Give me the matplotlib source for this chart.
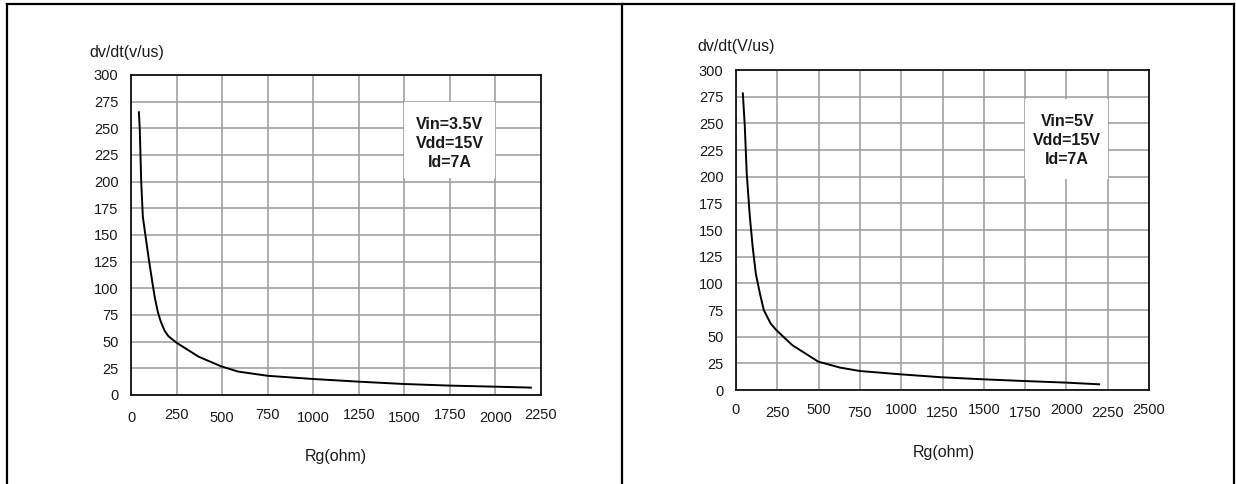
import matplotlib
matplotlib.use("Agg")
import matplotlib.pyplot as plt
from matplotlib.lines import Line2D
from matplotlib.patches import Rectangle
from matplotlib.transforms import ScaledTranslation

plt.rcParams['font.family'] = ['Liberation Sans', 'DejaVu Sans']

# ---- data ----
rg_left = [43, 48, 56, 65, 83, 98, 115, 130, 147, 163, 185, 206, 250, 370, 493,
           587, 750, 1000, 1250, 1500, 1750, 2000, 2200]
dvdt_left = [266, 250, 200, 167, 145, 127, 108, 92, 78, 69, 60, 55, 49, 36, 27,
             22, 18, 15, 12.5, 10.3, 8.8, 7.8, 6.9]

rg_right = [41, 53, 65, 84, 101, 120, 144, 168, 209, 245, 341, 498, 630, 750,
            995, 1248, 1498, 1748, 2000, 2204]
dvdt_right = [279, 248, 203, 162, 134, 109, 91, 75, 62.5, 56, 42, 26.6, 21, 17.8,
              14.7, 11.9, 10, 8.4, 6.9, 5.3]

yticks = [0, 25, 50, 75, 100, 125, 150, 175, 200, 225, 250, 275, 300]
xticks_left = [0, 250, 500, 750, 1000, 1250, 1500, 1750, 2000, 2250]
xticks_right = [0, 250, 500, 750, 1000, 1250, 1500, 1750, 2000, 2250, 2500]

ylabel_left = "dv/dt(v/us)"
ylabel_right = "dv/dt(V/us)"
xlabel = "Rg(ohm)"
note_left = "Vin=3.5V\nVdd=15V\nId=7A"
note_right = "Vin=5V\nVdd=15V\nId=7A"

W, H = 1236, 484
fig = plt.figure(figsize=(W / 100, H / 100), dpi=100)
fig.patch.set_facecolor('white')

TXT = '#1a1a1a'
GRID = '#9a9a9a'


def px_rect(x0, y0, x1, y1):
    return [x0 / W, 1 - y1 / H, (x1 - x0) / W, (y1 - y0) / H]


def panel(rect, xs, ys, xticks, xmax, ylab, ylab_xy, xlab_xy, note, note_xy, box,
          jitter_sign):
    ax = fig.add_axes(px_rect(*rect))
    ax.plot(xs, ys, color='black', lw=1.4, zorder=3, solid_capstyle='butt')
    ax.set_xlim(0, xmax)
    ax.set_ylim(0, 300)
    ax.set_xticks(xticks)
    ax.set_yticks(yticks)
    ax.set_xticklabels([str(v) for v in xticks])
    ax.set_yticklabels([str(v) for v in yticks])
    ax.tick_params(length=0, labelsize=10.5, colors=TXT)
    ax.tick_params(axis='y', pad=9)
    ax.tick_params(axis='x', pad=10.5)
    # slight alternating vertical offset of x tick labels (as in the scan)
    for i, lab in enumerate(ax.get_xticklabels()):
        dy = (1.2 if i % 2 == 0 else -1.2) * jitter_sign
        lab.set_transform(lab.get_transform() +
                          ScaledTranslation(0, dy / 72, fig.dpi_scale_trans))
    ax.grid(True, color=GRID, lw=1.1)
    ax.set_axisbelow(True)
    for s in ax.spines.values():
        s.set_color('#111111')
        s.set_linewidth(1.3)
        s.set_zorder(4)
    bx0, by0, bx1, by1 = box
    ax.add_patch(Rectangle((bx0, by0), bx1 - bx0, by1 - by0, facecolor='white',
                           edgecolor='none', zorder=1))
    ax.text(note_xy[0], note_xy[1], note, ha='center', va='center',
            fontsize=11.5, fontweight='bold', color=TXT, linespacing=1.35, zorder=5)
    fig.text(ylab_xy[0] / W, 1 - ylab_xy[1] / H, ylab, ha='left', va='center',
             fontsize=11.5, color=TXT)
    fig.text(xlab_xy[0] / W, 1 - xlab_xy[1] / H, xlabel, ha='center', va='center',
             fontsize=11.5, color=TXT)
    return ax


panel((131, 75, 541, 395), rg_left, dvdt_left, xticks_left, 2250,
      ylabel_left, (89, 53), (336, 457), note_left, (1750, 236),
      (1500, 203, 2000, 275), -1)
panel((736, 70, 1149, 390), rg_right, dvdt_right, xticks_right, 2500,
      ylabel_right, (697, 47), (944, 453), note_right, (2005, 234),
      (1750, 198, 2250, 273), 1)

# page frame lines
lw = 1.6
fig.add_artist(Line2D([7 / W, 1234 / W], [1 - 4 / H, 1 - 4 / H], color='black', lw=lw))
for xp in (7, 622, 1234):
    fig.add_artist(Line2D([xp / W, xp / W], [0, 1 - 4 / H], color='black', lw=lw))

fig.savefig('out.png', dpi=100, facecolor='white')
